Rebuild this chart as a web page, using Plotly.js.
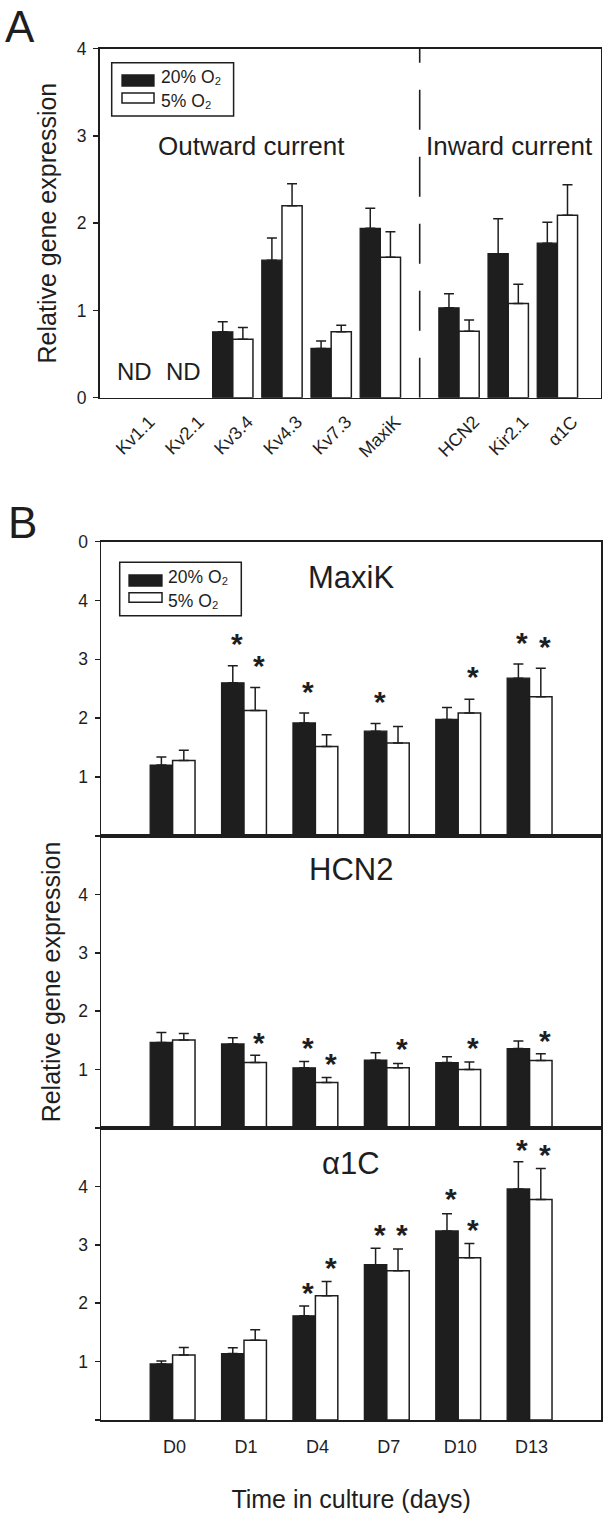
<!DOCTYPE html>
<html>
<head>
<meta charset="utf-8">
<script src="https://cdn.plot.ly/plotly-3.0.1.min.js"></script>
<style>html,body{margin:0;padding:0;background:#fff;}#chart{width:606px;height:1515px;}</style>
</head>
<body>
<div id="chart"></div>
<script>
// ---------- Panel A data ----------
const genesA = ['Kv1.1','Kv2.1','Kv3.4','Kv4.3','Kv7.3','MaxiK','HCN2','Kir2.1','α1C'];
const a20    = [null, null, 0.755, 1.575, 0.565, 1.94, 1.03, 1.65, 1.77];
const a20err = [0, 0, 0.115, 0.255, 0.085, 0.23, 0.16, 0.40, 0.24];
const a5     = [null, null, 0.67, 2.20, 0.755, 1.61, 0.76, 1.08, 2.09];
const a5err  = [0, 0, 0.135, 0.25, 0.075, 0.29, 0.13, 0.22, 0.35];
const ndGenes = ['Kv1.1','Kv2.1'];
const yTicksA = [0,1,2,3,4];
const seriesNames = ['20% O₂', '5% O₂'];

// ---------- Panel B data ----------
const days = ['D0','D1','D4','D7','D10','D13'];
const maxi20    = [1.205, 2.60, 1.92, 1.78, 1.98, 2.68];
const maxi20err = [0.135, 0.29, 0.17, 0.13, 0.20, 0.24];
const maxi5     = [1.28, 2.13, 1.52, 1.58, 2.09, 2.365];
const maxi5err  = [0.175, 0.39, 0.20, 0.28, 0.23, 0.485];
const maxi20star = [null, 3.38, 2.58, 2.41, null, 3.41];
const maxi5star  = [null, 3.02, null, null, 2.82, 3.34];

const hcn20    = [1.465, 1.44, 1.03, 1.16, 1.12, 1.36];
const hcn20err = [0.17, 0.105, 0.11, 0.127, 0.10, 0.13];
const hcn5     = [1.505, 1.12, 0.78, 1.03, 1.00, 1.155];
const hcn5err  = [0.115, 0.127, 0.085, 0.075, 0.132, 0.115];
const hcn20star = [null, null, 1.50, null, null, null];
const hcn5star  = [null, 1.59, 1.22, 1.475, 1.50, 1.62];

const a1c20    = [0.96, 1.137, 1.784, 2.66, 3.237, 3.957];
const a1c20err = [0.05, 0.10, 0.166, 0.28, 0.296, 0.463];
const a1c5     = [1.115, 1.367, 2.127, 2.556, 2.78, 3.774];
const a1c5err  = [0.125, 0.177, 0.245, 0.374, 0.244, 0.531];
const a1c20star = [null, null, 2.30, 3.30, 3.905, 4.76];
const a1c5star  = [null, null, 2.73, 3.30, 3.374, 4.66];

// labelled ticks of panel B (the top panel's upper tick is printed as "0" in the original)
const yTicksTop = [1,2,3,4,5];
const yTickTextTop = ['1','2','3','4','0'];
const yTicksB = [1,2,3,4];
const yTickTextB = ['1','2','3','4'];
const yMinorB = [0,5];

// ---------- helpers ----------
const W = 606, H = 1515;
const px = v => v / W;
const py = v => 1 - v / H;
const FONT = 'Liberation Sans, Arial, Helvetica, sans-serif';
const INK = '#1e1e1e';

// Panel A positions: outward genes one slot apart, inward block after a 0.6-slot gap
const posA = genesA.map((g, i) => i + (i >= 6 ? 0.6 : 0));
const idxB = days.map((d, i) => i);

const wA = 0.41, wB = 0.314;

function barPair(x, v20, e20, v5, e5, w, xa, ya) {
  const err = (arr) => ({type:'data', symmetric:false, array:arr, arrayminus:arr.map(()=>0),
                         color:INK, thickness:1.5, width:5});
  return [
    {type:'bar', x:x, y:v20, width:w, offset:-w, xaxis:xa, yaxis:ya, name:seriesNames[0],
     marker:{color:INK, line:{color:INK, width:1.3}}, error_y:err(e20), showlegend:false},
    {type:'bar', x:x, y:v5, width:w, offset:0, xaxis:xa, yaxis:ya, name:seriesNames[1],
     marker:{color:'#ffffff', line:{color:INK, width:1.5}}, error_y:err(e5), showlegend:false}
  ];
}

const data = [].concat(
  barPair(posA, a20, a20err, a5, a5err, wA, 'x', 'y'),
  barPair(idxB, maxi20, maxi20err, maxi5, maxi5err, wB, 'x2', 'y2'),
  barPair(idxB, hcn20, hcn20err, hcn5, hcn5err, wB, 'x3', 'y3'),
  barPair(idxB, a1c20, a1c20err, a1c5, a1c5err, wB, 'x4', 'y4')
);

const annotations = [];
const shapes = [];

function txt(x, y, text, size, extra) {
  return Object.assign({x:x, y:y, xref:'paper', yref:'paper', text:text, showarrow:false,
    font:{family:FONT, size:size, color:INK}, xanchor:'center', yanchor:'middle'}, extra || {});
}

// Panel letters
annotations.push(txt(px(20), py(0), 'A', 44, {yanchor:'top'}));
annotations.push(txt(px(22), py(496), 'B', 44, {yanchor:'top'}));

// Panel A labels
annotations.push(txt(px(251), py(146), 'Outward current', 26));
annotations.push(txt(px(509.7), py(146), 'Inward current', 26));
ndGenes.forEach(g => {
  const i = genesA.indexOf(g);
  annotations.push({x:posA[i], y:0.3, xref:'x', yref:'y', text:'ND', showarrow:false,
    font:{family:FONT, size:24, color:INK}, xanchor:'center', yanchor:'middle'});
});

// Panel B titles
annotations.push(txt(px(351), py(577.5), 'MaxiK', 31));
annotations.push(txt(px(351), py(869.3), 'HCN2', 31));
annotations.push(txt(px(351), py(1163), 'α1C', 31));

// significance stars
function stars(arr, off, xa, ya) {
  arr.forEach((v, i) => {
    if (v === null) return;
    annotations.push({x:i + off, y:v, xref:xa, yref:ya, text:'<b>*</b>', showarrow:false,
      font:{family:FONT, size:30, color:INK}, xanchor:'center', yanchor:'middle', xshift:4, yshift:-7});
  });
}
stars(maxi20star, -wB/2, 'x2', 'y2'); stars(maxi5star, wB/2, 'x2', 'y2');
stars(hcn20star, -wB/2, 'x3', 'y3');  stars(hcn5star, wB/2, 'x3', 'y3');
stars(a1c20star, -wB/2, 'x4', 'y4');  stars(a1c5star, wB/2, 'x4', 'y4');

// custom legends (swatch rectangles + labels)
function legendBox(bx0, by0, bx1, by1, sx0, sx1, s1y0, s1y1, s2y0, s2y1, tx) {
  shapes.push({type:'rect', xref:'paper', yref:'paper', x0:px(bx0), x1:px(bx1), y0:py(by1), y1:py(by0),
    line:{color:INK, width:1.5}, fillcolor:'rgba(0,0,0,0)'});
  shapes.push({type:'rect', xref:'paper', yref:'paper', x0:px(sx0), x1:px(sx1), y0:py(s1y1), y1:py(s1y0),
    line:{color:INK, width:1.3}, fillcolor:INK});
  shapes.push({type:'rect', xref:'paper', yref:'paper', x0:px(sx0), x1:px(sx1), y0:py(s2y1), y1:py(s2y0),
    line:{color:INK, width:1.5}, fillcolor:'#ffffff'});
  annotations.push(txt(px(tx), py(s1y1 + 3), seriesNames[0], 17.5, {xanchor:'left', yanchor:'bottom'}));
  annotations.push(txt(px(tx), py(s2y0 - 4), seriesNames[1], 17.5, {xanchor:'left', yanchor:'top'}));
}
legendBox(111.7, 62.7, 233.6, 116, 122, 154, 75, 86, 93, 103, 159);
legendBox(119.7, 562.3, 241.3, 615.7, 129, 162, 575, 586, 592.7, 602.3, 166);

// dashed divider between outward and inward currents
shapes.push({type:'line', xref:'x', yref:'y', x0:(posA[5]+posA[6])/2, x1:(posA[5]+posA[6])/2, y0:0, y1:4,
  line:{color:INK, width:1.6, dash:'40px,27px'}});

const baseAxis = {showline:true, mirror:true, linecolor:INK, linewidth:1.6, zeroline:false,
  showgrid:false, fixedrange:true};
const yBase = Object.assign({}, baseAxis, {ticks:'outside', ticklen:5, tickwidth:1.5, tickcolor:INK,
  tickfont:{family:FONT, size:17.5, color:INK}, ticklabelstandoff:3});
const minorB = {tickvals:yMinorB, ticks:'outside', ticklen:5, tickwidth:1.5, tickcolor:INK, showgrid:false};
const xBDomain = [px(101.2), px(601)];
const yTitleFont = {family:FONT, size:25, color:INK};

const layout = {
  width: W, height: H,
  margin: {l:0, r:0, t:0, b:0},
  paper_bgcolor:'#ffffff', plot_bgcolor:'rgba(0,0,0,0)',
  barmode:'overlay', showlegend:false,
  font:{family:FONT, color:INK},
  xaxis: Object.assign({}, baseAxis, {domain:[px(99.5), px(600.7)], range:[-0.71, 9.48], anchor:'y',
    tickvals:posA, ticktext:genesA, tickangle:-45, ticks:'', ticklabelshift:15, ticklabelstandoff:5,
    tickfont:{family:FONT, size:18, color:INK}}),
  yaxis: Object.assign({}, yBase, {domain:[py(397.7), py(48.5)], range:[0,4], anchor:'x',
    tickvals:yTicksA, title:{text:'Relative gene expression', font:yTitleFont, standoff:13}}),
  xaxis2: Object.assign({}, baseAxis, {domain:xBDomain, range:[-1,6], anchor:'y2', showticklabels:false, ticks:''}),
  yaxis2: Object.assign({}, yBase, {domain:[py(836), py(541.5)], range:[0,5], anchor:'x2',
    tickvals:yTicksTop, ticktext:yTickTextTop, minor:minorB}),
  xaxis3: Object.assign({}, baseAxis, {domain:xBDomain, range:[-1,6], anchor:'y3', showticklabels:false, ticks:''}),
  yaxis3: Object.assign({}, yBase, {domain:[py(1128), py(836)], range:[0,5], anchor:'x3',
    tickvals:yTicksB, ticktext:yTickTextB, minor:minorB,
    title:{text:'Relative gene expression', font:yTitleFont, standoff:10}}),
  xaxis4: Object.assign({}, baseAxis, {domain:xBDomain, range:[-1,6], anchor:'y4', ticks:'',
    tickvals:idxB, ticktext:days, ticklabelshift:2, ticklabelstandoff:10,
    tickfont:{family:FONT, size:18, color:INK},
    title:{text:'Time in culture (days)', font:{family:FONT, size:25, color:INK}, standoff:34}}),
  yaxis4: Object.assign({}, yBase, {domain:[py(1420), py(1128)], range:[0,5], anchor:'x4',
    tickvals:yTicksB, ticktext:yTickTextB, minor:minorB}),
  annotations: annotations,
  shapes: shapes
};

Plotly.newPlot('chart', data, layout, {staticPlot:true, displayModeBar:false});
</script>
</body>
</html>
